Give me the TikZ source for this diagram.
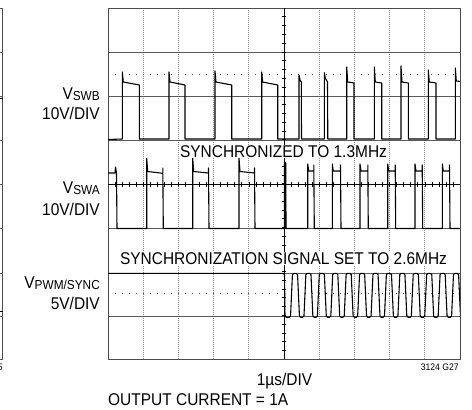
\documentclass[tikz,border=0pt]{standalone}
\usepackage{fontspec}
\setmainfont[FakeStretch=0.91]{Liberation Sans}
\begin{document}
\begin{tikzpicture}[x=1pt,y=-1pt,
  frame/.style={draw=black!70, line width=0.8pt},
  hgrid/.style={draw=black!65, line width=0.7pt},
  vgrid/.style={draw=black!45, line width=0.7pt, dash pattern=on 1pt off 1pt},
  axisline/.style={draw=black, line width=0.8pt},
  tickmark/.style={draw=black, line width=0.6pt},
  dotline/.style={draw=black!70, line width=0.9pt, dash pattern=on 0.9pt off 6.14pt},
  sig/.style={draw=black, line width=1.1pt, line join=round},
  lbl/.style={font=\fontsize{17}{20}\selectfont, inner sep=0pt},
  tinylbl/.style={font=\fontsize{9.5}{10}\selectfont, inner sep=0pt}]
\useasboundingbox (0,0) rectangle (472,410);

% neighbouring (cut-off) graph at the left edge
\draw[frame] (2.7,8) -- (2.7,359.3);
\foreach \yy in {8,52.2,96.1,140.1,184.2,228.7,273.2,316.8,359.3}
  \draw[hgrid] (0,\yy) -- (2.7,\yy);
\draw[sig] (0,98.5) -- (2.7,98.5);
\draw[sig] (0,311.7) -- (2.7,311.7);
\node[tinylbl, anchor=base east] (five) at (2.8,370) {5};

% grid
\foreach \k in {1,2,3,4,6,7,8,9}
  \draw[vgrid] ({108+35.2*\k},8) -- ({108+35.2*\k},359.3);
\foreach \yy in {52.2,96.1,140.1,228.7,273.2,316.8}
  \draw[hgrid] (108,\yy) -- (460,\yy);
\draw[frame] (108,8) rectangle (460,359.3);
\draw[axisline] (284,8) -- (284,359.3);
\draw[axisline] (108,184.2) -- (460,184.2);
\foreach \k in {1,...,39}
  \draw[tickmark] (281.7,{8+8.78*\k}) -- (286.3,{8+8.78*\k});
\foreach \k in {1,...,49}
  \draw[tickmark] ({108+7.04*\k},181.9) -- ({108+7.04*\k},186.5);
\draw[dotline] (114.6,74.7) -- (460,74.7);
\draw[dotline] (114.6,293.5) -- (460,293.5);

% waveforms
\begin{scope}
\clip (108,8) rectangle (460,359.3);
% V_SWB
\draw[sig] (108,139.5) -- (122.3,139) -- (122.3,72) -- (123.3,82) -- (139.3,85) -- (139.3,139)
  -- (169,139) -- (169,72) -- (170,82) -- (185,85) -- (185,139)
  -- (215,139) -- (215,71) -- (216,82) -- (231.7,85) -- (231.7,139)
  -- (261.7,139) -- (261.7,72) -- (262.7,82) -- (277.7,85) -- (277.7,139)
  -- (299,139) -- (299,75) -- (300,80) -- (301.3,82) -- (301.5,139)
  -- (324.3,139) -- (324.3,72.7) -- (325.3,78) -- (327.5,82) -- (327.8,139)
  -- (346.7,139) -- (346.7,67) -- (347.7,82) -- (354,83) -- (354,139)
  -- (374.3,139) -- (374.3,67) -- (375.3,82) -- (381.7,83) -- (381.7,139)
  -- (401,139) -- (401,66) -- (402,82) -- (408.3,83) -- (408.3,139)
  -- (428.3,139) -- (428.3,70) -- (429.3,82) -- (436,83) -- (436,139)
  -- (455.3,139) -- (455.3,68) -- (456.3,81) -- (461,81.5);
% V_SWA
\draw[sig] (108,173) -- (115,173) -- (115.5,167) -- (116.5,173) -- (117,228.5)
  -- (146.7,228.5) -- (146.7,158.3) -- (147.7,171.5) -- (162.8,173.3) -- (162.8,168) -- (163.3,228.5)
  -- (192.7,228.5) -- (192.7,158) -- (193.7,171.5) -- (208.5,173) -- (208.5,168) -- (209,228.5)
  -- (239,228.5) -- (239,158) -- (240,171.5) -- (254.5,173) -- (254.5,168) -- (255,228.5)
  -- (284.5,228.5) -- (284.5,162) -- (285.8,163) -- (286,228.5)
  -- (307.7,228.5) -- (307.7,164) -- (308.7,171) -- (313.8,171) -- (313.8,165) -- (314.3,228.5)
  -- (332.3,228.5) -- (332.3,164) -- (333.3,171) -- (340.5,171) -- (340.5,165) -- (341,228.5)
  -- (360,228.5) -- (360,164) -- (361,171) -- (367.8,171) -- (367.8,165) -- (368.3,228.5)
  -- (387.7,228.5) -- (387.7,164) -- (388.7,171) -- (395.2,171) -- (395.2,165) -- (395.7,228.5)
  -- (415,228.5) -- (415,164) -- (416,171) -- (422.2,171) -- (422.2,165) -- (422.7,228.5)
  -- (442.3,228.5) -- (442.3,164) -- (443.3,171) -- (449.5,171) -- (449.5,165) -- (450,228.5)
  -- (461,228.5);
% V_PWM/SYNC
\draw[sig, rounded corners=1.3pt] (108,273.3) -- (284.5,273.3) -- (285,317.3)
  \foreach \k in {0,...,12} { -- ({290.5+13.42*\k},317.3) -- ({292.5+13.42*\k},273.3)
     -- ({297.5+13.42*\k},273.3) -- ({299.5+13.42*\k},317.3) }
  -- (470,317.3);
\end{scope}

% labels
\node[lbl, anchor=base east] (vswb) at (100,99) {V\raisebox{-1.2pt}{\fontsize{13}{14}\selectfont SWB}};
\node[lbl, anchor=base east] (vswbdiv) at (100,119) {10V/DIV};
\node[lbl, anchor=base east] (vswa) at (100,193) {V\raisebox{-1.2pt}{\fontsize{13}{14}\selectfont SWA}};
\node[lbl, anchor=base east] (vswadiv) at (100,215.5) {10V/DIV};
\node[lbl, anchor=base east] (vpwm) at (100,288) {V\raisebox{-1.2pt}{\fontsize{13}{14}\selectfont PWM/SYNC}};
\node[lbl, anchor=base east] (vpwmdiv) at (100,309.3) {5V/DIV};
\node[lbl, anchor=base, fill=white, inner xsep=1pt, inner ysep=0.5pt] (sync1) at (283.5,157.3) {SYNCHRONIZED TO 1.3MHz};
\node[lbl, anchor=base, fill=white, inner xsep=1pt, inner ysep=0.5pt] (sync2) at (283.5,264) {SYNCHRONIZATION SIGNAL SET TO 2.6MHz};
\node[lbl, anchor=base] (tdiv) at (284.5,385) {1µs/DIV};
\node[lbl, anchor=base west] (iout) at (108,405) {OUTPUT CURRENT = 1A};
\node[tinylbl, anchor=base east] (code) at (459,370) {3124 G27};
\end{tikzpicture}
\end{document}
